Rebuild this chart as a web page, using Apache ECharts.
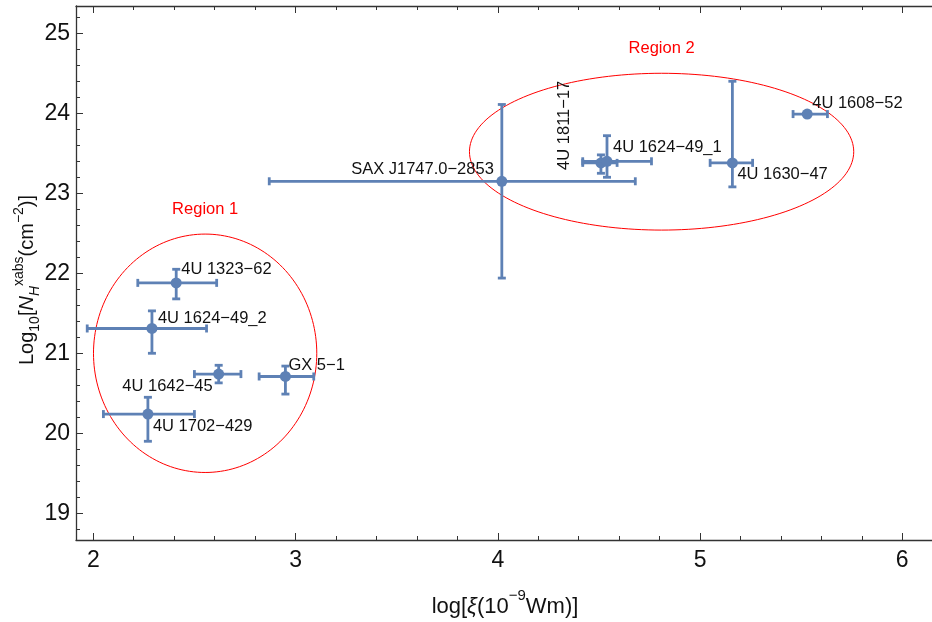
<!DOCTYPE html>
<html>
<head>
<meta charset="utf-8">
<script src="https://cdn.jsdelivr.net/npm/echarts@6/dist/echarts.min.js"></script>
<style>html,body{margin:0;padding:0;background:#fff}#c{width:932px;height:622px}</style>
</head>
<body>
<div id="c"></div>
<script>
// ---- data ----
const sourceNames = ['4U 1323\u221262','4U 1624\u221249_2','4U 1642\u221245','GX 5\u22121','4U 1702\u2212429','SAX J1747.0\u22122853','4U 1811\u221217','4U 1624\u221249_1','4U 1630\u221247','4U 1608\u221252'];
const xVals  = [2.41, 2.29, 2.62, 2.95, 2.27, 4.02, 4.51, 4.54, 5.16, 5.53];
const yVals  = [21.88, 21.31, 20.74, 20.71, 20.24, 23.15, 23.38, 23.40, 23.38, 23.99];
const xLow   = [2.22, 1.97, 2.50, 2.82, 2.05, 2.87, 4.42, 4.42, 5.05, 5.46];
const xHigh  = [2.61, 2.56, 2.73, 3.09, 2.50, 4.68, 4.59, 4.76, 5.26, 5.63];
const yLow   = [21.68, 21.00, 20.63, 20.49, 19.90, 21.94, 23.25, 23.20, 23.08, 23.99];
const yHigh  = [22.05, 21.53, 20.85, 20.84, 20.45, 24.11, 23.48, 23.72, 24.40, 23.99];

const regionNames = ['Region 1', 'Region 2'];
const regionCx = [2.553, 4.81];
const regionCy = [21.0, 23.52];
const regionRx = [0.552, 0.95];
const regionRy = [1.49, 0.98];

const xTicks = [2, 3, 4, 5, 6];
const yTicks = [19, 20, 21, 22, 23, 24, 25];

// ---- layout / style ----
const xMin = 1.9145, xMax = 6.147, yMin = 18.666, yMax = 25.341;
const FONT = '"Liberation Sans", Arial, sans-serif';
const BLUE = '#5E81B5';
const FRAME = '#333';
function minors(lo, hi, step, majors) {
  const out = [];
  for (let v = Math.ceil(lo / step - 1e-9) * step; v <= hi + 1e-9; v += step) {
    const r = Math.round(v * 1000) / 1000;
    if (!majors.some(m => Math.abs(m - r) < 1e-6)) out.push(r);
  }
  return out;
}
const xMinor = minors(xMin, xMax, 0.2, xTicks);
const yMinor = minors(yMin, yMax, 0.2, yTicks);

// label placement: [dx, dy, align, rotated]
const labelPlace = [
  [5, -13, 'left', false],
  [6, -10, 'left', false],
  [-6, 12, 'right', false],
  [3, -11, 'left', false],
  [5, 12, 'left', false],
  [-8, -12, 'right', false],
  [-36, 7, 'left', true],
  [6, -14, 'left', false],
  [5, 12, 'left', false],
  [5, -11, 'left', false]
];

const pointData = sourceNames.map((n, i) => [xVals[i], yVals[i], xLow[i], xHigh[i], yLow[i], yHigh[i], i]);
const regionData = regionNames.map((n, i) => [regionCx[i], regionCy[i], regionRx[i], regionRy[i], i]);

function axisBase(pos, majorVals, minorVals, isMajor, showLabel, min, max, showLine) {
  return {
    type: 'value', position: pos, min: min, max: max, offset: 0,
    axisLine: { show: showLine, onZero: false, lineStyle: { color: FRAME, width: 1.3 } },
    axisTick: { show: true, inside: true, length: isMajor ? 7 : 4, customValues: isMajor ? majorVals : minorVals,
                lineStyle: { color: FRAME, width: 1 } },
    axisLabel: showLabel ? { show: true, customValues: majorVals, fontSize: 23, color: '#111', fontFamily: FONT, margin: pos === 'left' ? 6 : 9 } : { show: false },
    splitLine: { show: false }
  };
}

const chart = echarts.init(document.getElementById('c'), null, { renderer: 'canvas' });
chart.setOption({
  animation: false,
  backgroundColor: '#fff',
  grid: { left: 76, right: 0, top: 6, bottom: 82, containLabel: false },
  xAxis: [
    axisBase('bottom', xTicks, xMinor, true, true, xMin, xMax, true),
    axisBase('bottom', xTicks, xMinor, false, false, xMin, xMax, false),
    axisBase('top', xTicks, xMinor, true, false, xMin, xMax, true),
    axisBase('top', xTicks, xMinor, false, false, xMin, xMax, false)
  ],
  yAxis: [
    axisBase('left', yTicks, yMinor, true, true, yMin, yMax, true),
    axisBase('left', yTicks, yMinor, false, false, yMin, yMax, false)
  ],
  graphic: [
    {
      type: 'text', x: 505, y: 603,
      style: {
        text: '{n|log[}{i|\u03be}{n|(10}{sup|\u22129}{n|Wm)]}',
        align: 'center', verticalAlign: 'middle', fill: '#111',
        rich: {
          n: { fontSize: 22, fontFamily: FONT, lineHeight: 30, verticalAlign: 'bottom' },
          i: { fontSize: 22, fontFamily: FONT, fontStyle: 'italic', lineHeight: 30, verticalAlign: 'bottom' },
          sup: { fontSize: 15, fontFamily: FONT, lineHeight: 30, verticalAlign: 'top' }
        }
      }
    },
    {
      type: 'text', x: 27, y: 280, rotation: Math.PI / 2,
      style: {
        text: '{n|Log}{sub|10}{n|[}{i|N}{isub|H}{sup|xabs}{n|(cm}{sup|\u22122}{n|)]}',
        align: 'center', verticalAlign: 'middle', fill: '#111',
        rich: {
          n: { fontSize: 20, fontFamily: FONT, lineHeight: 30, verticalAlign: 'middle' },
          i: { fontSize: 20, fontFamily: FONT, fontStyle: 'italic', lineHeight: 30, verticalAlign: 'middle' },
          sub: { fontSize: 14, fontFamily: FONT, lineHeight: 30, verticalAlign: 'bottom' },
          isub: { fontSize: 14, fontFamily: FONT, fontStyle: 'italic', lineHeight: 30, verticalAlign: 'bottom' },
          sup: { fontSize: 14, fontFamily: FONT, lineHeight: 30, verticalAlign: 'top' }
        }
      }
    }
  ],
  series: [
    {
      type: 'custom', xAxisIndex: 0, yAxisIndex: 0, clip: false, silent: true,
      data: regionData,
      renderItem: function (params, api) {
        const cx = api.value(0), cy = api.value(1), rx = api.value(2), ry = api.value(3);
        const idx = api.value(4);
        const pts = [];
        for (let k = 0; k < 180; k++) {
          const t = k / 180 * Math.PI * 2;
          pts.push(api.coord([cx + rx * Math.cos(t), cy + ry * Math.sin(t)]));
        }
        const top = api.coord([cx, cy + ry]);
        return {
          type: 'group',
          children: [
            { type: 'polygon', shape: { points: pts }, style: { fill: 'none', stroke: '#FF0000', lineWidth: 1 } },
            { type: 'text', x: top[0], y: top[1] - 25,
              style: { text: regionNames[idx], fill: '#FF0000', font: '16.5px ' + FONT,
                       align: 'center', verticalAlign: 'middle', textAlign: 'center', textVerticalAlign: 'middle' } }
          ]
        };
      }
    },
    {
      type: 'custom', xAxisIndex: 0, yAxisIndex: 0, clip: false, silent: true,
      data: pointData,
      renderItem: function (params, api) {
        const x = api.value(0), y = api.value(1);
        const xl = api.value(2), xh = api.value(3), yl = api.value(4), yh = api.value(5);
        const idx = api.value(6);
        const c = api.coord([x, y]);
        const pl = api.coord([xl, y]), ph = api.coord([xh, y]);
        const ql = api.coord([x, yl]), qh = api.coord([x, yh]);
        const ls = { stroke: BLUE, lineWidth: 2.8 };
        const cap = 4;
        const ch = [];
        ch.push({ type: 'line', shape: { x1: pl[0], y1: pl[1], x2: ph[0], y2: ph[1] }, style: ls });
        ch.push({ type: 'line', shape: { x1: pl[0], y1: pl[1] - cap, x2: pl[0], y2: pl[1] + cap }, style: ls });
        ch.push({ type: 'line', shape: { x1: ph[0], y1: ph[1] - cap, x2: ph[0], y2: ph[1] + cap }, style: ls });
        if (Math.abs(yh - yl) > 1e-6) {
          ch.push({ type: 'line', shape: { x1: ql[0], y1: ql[1], x2: qh[0], y2: qh[1] }, style: ls });
          ch.push({ type: 'line', shape: { x1: ql[0] - cap, y1: ql[1], x2: ql[0] + cap, y2: ql[1] }, style: ls });
          ch.push({ type: 'line', shape: { x1: qh[0] - cap, y1: qh[1], x2: qh[0] + cap, y2: qh[1] }, style: ls });
        }
        ch.push({ type: 'circle', shape: { cx: c[0], cy: c[1], r: 5.5 }, style: { fill: BLUE } });
        const lp = labelPlace[idx];
        ch.push({
          type: 'text', x: c[0] + lp[0], y: c[1] + lp[1], rotation: lp[3] ? Math.PI / 2 : 0,
          style: { text: sourceNames[idx], fill: '#111', font: '16.5px ' + FONT,
                   align: lp[2], textAlign: lp[2], verticalAlign: 'middle', textVerticalAlign: 'middle' }
        });
        return { type: 'group', children: ch };
      }
    }
  ]
});
</script>
</body>
</html>
